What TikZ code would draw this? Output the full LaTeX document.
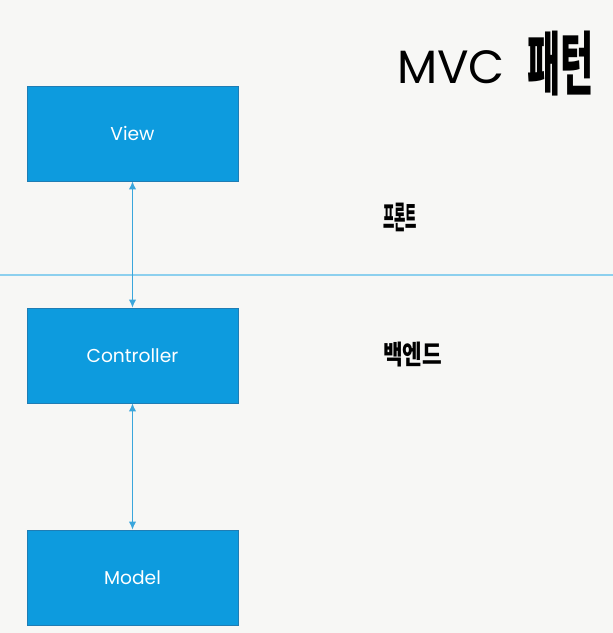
\documentclass[tikz,border=0pt]{standalone}
\usepackage{fontspec}
\setmainfont{Poppins}
\newfontfamily\kr{Noto Sans CJK KR}
\usetikzlibrary{arrows.meta}

\definecolor{pagebg}{HTML}{F7F7F5}
\definecolor{boxfill}{HTML}{0D9BDE}
\definecolor{boxline}{HTML}{1F7DB4}
\definecolor{linkline}{HTML}{3AA6DC}
\definecolor{splitline}{HTML}{8DD0EE}

\tikzset{
    mvcbox/.style={draw=boxline,
        line width=0.6pt,
        rectangle,
        fill=boxfill,
        text=white,
        font=\fontsize{14}{16}\selectfont,
        minimum width = 158.25pt,
        minimum height = 71.25pt},
    link/.style={draw=linkline,
        line width=0.8pt,
        {Latex[length=6pt,width=5.5pt]}-{Latex[length=6pt,width=5.5pt]}},
    hangul/.style={font=\kr\bfseries, anchor=west, transform shape, inner sep=0pt}
}

\begin{document}
\begin{tikzpicture}[x=0.75pt,y=-0.75pt]
        \fill[pagebg] (0,0) rectangle (613,633);
        \useasboundingbox (0,0) rectangle (613,633);

        % title
        \node[anchor=base west,
        inner sep=0pt,
        font=\fontsize{35}{38}\selectfont
        ](title) at (397,83) {MVC};
        \node[hangul,
        xscale=0.52,
        font=\kr\bfseries\fontsize{52}{52}\selectfont
        ](titlekr) at (527,64) {패턴};

        % front / back split
        \coordinate (splitL) at (0,275);
        \coordinate (splitR) at (613,275);
        \draw[splitline, line width=1.1pt] (splitL) -- (splitR);

        \node[hangul,
        xscale=0.4,
        font=\kr\bfseries\fontsize{23}{23}\selectfont
        ](front) at (383,217) {프론트};
        \node[hangul,
        xscale=0.8,
        font=\kr\bfseries\fontsize{20}{20}\selectfont
        ](back) at (383,355) {백엔드};

        % boxes
        \node[mvcbox](view) at (132.5,133.5) {View};
        \node[mvcbox](controller) at (132.5,355.5) {Controller};
        \node[mvcbox](model) at (132.5,577.5) {Model};

        \draw[link] (view.south) -- (controller.north);
        \draw[link] (controller.south) -- (model.north);

    \end{tikzpicture}
\end{document}
